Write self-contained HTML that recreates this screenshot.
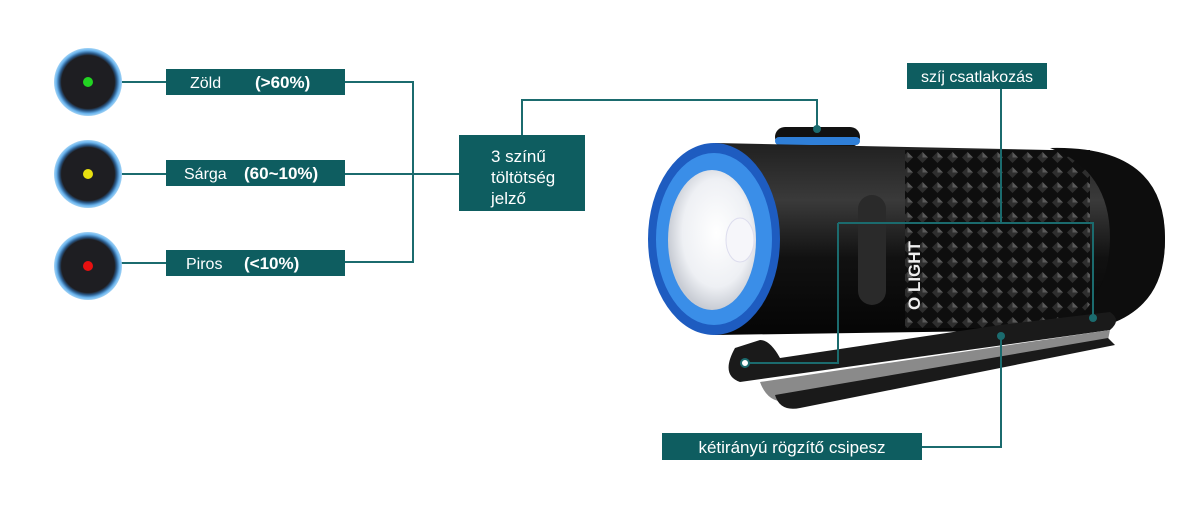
<!DOCTYPE html>
<html><head><meta charset="utf-8"><style>
body{margin:0;background:#fff;width:1199px;height:503px;overflow:hidden}
svg text{font-family:"Liberation Sans","DejaVu Sans",sans-serif;fill:#fff}
</style></head><body>
<svg width="1199" height="503" viewBox="0 0 1199 503" xmlns="http://www.w3.org/2000/svg">
<defs>
<radialGradient id="btn" cx="50%" cy="50%" r="50%"><stop offset="78%" stop-color="#1e1e22"/><stop offset="85%" stop-color="#2a5a8a"/><stop offset="93%" stop-color="#6ab4ee"/><stop offset="100%" stop-color="#a4d4f5"/></radialGradient>
<linearGradient id="body" x1="0" y1="0" x2="0" y2="1"><stop offset="0" stop-color="#202020"/><stop offset=".3" stop-color="#3a3a3a"/><stop offset=".6" stop-color="#111"/><stop offset="1" stop-color="#050505"/></linearGradient>
<pattern id="knurl" width="15" height="15" patternUnits="userSpaceOnUse"><rect width="15" height="15" fill="#0e0e0e"/><polygon points="7.5,2 13,7.5 7.5,13 2,7.5" fill="#2e2e2e"/><polygon points="7.5,2 13,7.5 7.5,7.5" fill="#5a5a5a"/></pattern>
<radialGradient id="lens" cx="55%" cy="45%" r="55%"><stop offset="0" stop-color="#fff"/><stop offset=".7" stop-color="#eef0f4"/><stop offset="1" stop-color="#c8ccd4"/></radialGradient>
</defs>
<!-- indicator buttons -->
<g fill="none" stroke="#1b6b6e" stroke-width="2">
<path d="M120 82H166M345 82H413V262H345M120 174H166M345 174H459M120 263H166"/>
<path d="M522 135V100H817V128"/>
</g>
<circle cx="88" cy="82" r="34" fill="url(#btn)"/><circle cx="88" cy="82" r="5" fill="#22d422"/>
<circle cx="88" cy="174" r="34" fill="url(#btn)"/><circle cx="88" cy="174" r="5" fill="#e8e010"/>
<circle cx="88" cy="266" r="34" fill="url(#btn)"/><circle cx="88" cy="266" r="5" fill="#e81010"/>
<rect x="166" y="69" width="179" height="26" fill="#0e5d60"/>
<text x="190" y="88" font-size="16">Zöld</text><text x="255" y="88" font-size="17" font-weight="bold">(&gt;60%)</text>
<rect x="166" y="160" width="179" height="26" fill="#0e5d60"/>
<text x="184" y="179" font-size="16">Sárga</text><text x="244" y="179" font-size="17" font-weight="bold">(60~10%)</text>
<rect x="166" y="250" width="179" height="26" fill="#0e5d60"/>
<text x="186" y="269" font-size="16">Piros</text><text x="244" y="269" font-size="17" font-weight="bold">(&lt;10%)</text>
<rect x="459" y="135" width="126" height="76" fill="#0e5d60"/>
<text x="491" y="162" font-size="17">3 színű</text><text x="491" y="183" font-size="17">töltötség</text><text x="491" y="204" font-size="17">jelző</text>
<!-- flashlight -->
<rect x="775" y="127" width="85" height="20" rx="10" fill="#111"/>
<rect x="775" y="137" width="85" height="8" rx="4" fill="#2f7fd8"/>
<path d="M715 143 L1050 150 Q1165 145 1165 240 Q1165 330 1060 330 L715 335 Z" fill="url(#body)"/>
<rect x="905" y="150" width="185" height="178" fill="url(#knurl)"/>
<path d="M1050 148 Q1165 145 1165 238 Q1165 330 1060 332 Q1110 300 1110 238 Q1110 170 1050 148Z" fill="#0d0d0d"/>
<rect x="858" y="195" width="28" height="110" rx="14" fill="#2a2a2a"/>
<text x="0" y="0" font-size="17" font-weight="bold" transform="translate(920,310) rotate(-90)" style="fill:#eee">O LIGHT</text>
<ellipse cx="714" cy="239" rx="66" ry="96" fill="#1e5cc0"/>
<ellipse cx="714" cy="239" rx="58" ry="86" fill="#3a8ee8"/>
<ellipse cx="712" cy="240" rx="44" ry="70" fill="url(#lens)"/>
<ellipse cx="740" cy="240" rx="14" ry="22" fill="#f6f6fa" stroke="#dde" />
<!-- clip -->
<path d="M735 348 Q720 375 740 382 L1110 330 Q1122 320 1110 312 L1000 325 L780 358 Q770 340 760 340 Z" fill="#1a1a1a"/>
<path d="M760 382 Q770 410 800 398 L1108 340 L1110 330 Z" fill="#8a8a8a"/>
<path d="M775 395 Q780 412 800 408 L1115 345 L1108 338 Z" fill="#1a1a1a"/>
<g fill="none" stroke="#1b6b6e" stroke-width="2">
<path d="M1001 89V223M838 223H1093V318M838 223V363H745"/>
<path d="M1001 336V447H922"/>
</g>
<circle cx="745" cy="363" r="4" fill="#fff" stroke="#1b6b6e" stroke-width="2"/>
<circle cx="817" cy="129" r="4" fill="#1b6b6e"/>
<circle cx="1093" cy="318" r="4" fill="#1b6b6e"/>
<circle cx="1001" cy="336" r="4" fill="#1b6b6e"/>
<rect x="907" y="63" width="140" height="26" fill="#0e5d60"/>
<text x="977" y="82" font-size="16" text-anchor="middle">szíj csatlakozás</text>
<rect x="662" y="433" width="260" height="27" fill="#0e5d60"/>
<text x="792" y="453" font-size="17" text-anchor="middle">kétirányú rögzítő csipesz</text>
</svg>
</body></html>
